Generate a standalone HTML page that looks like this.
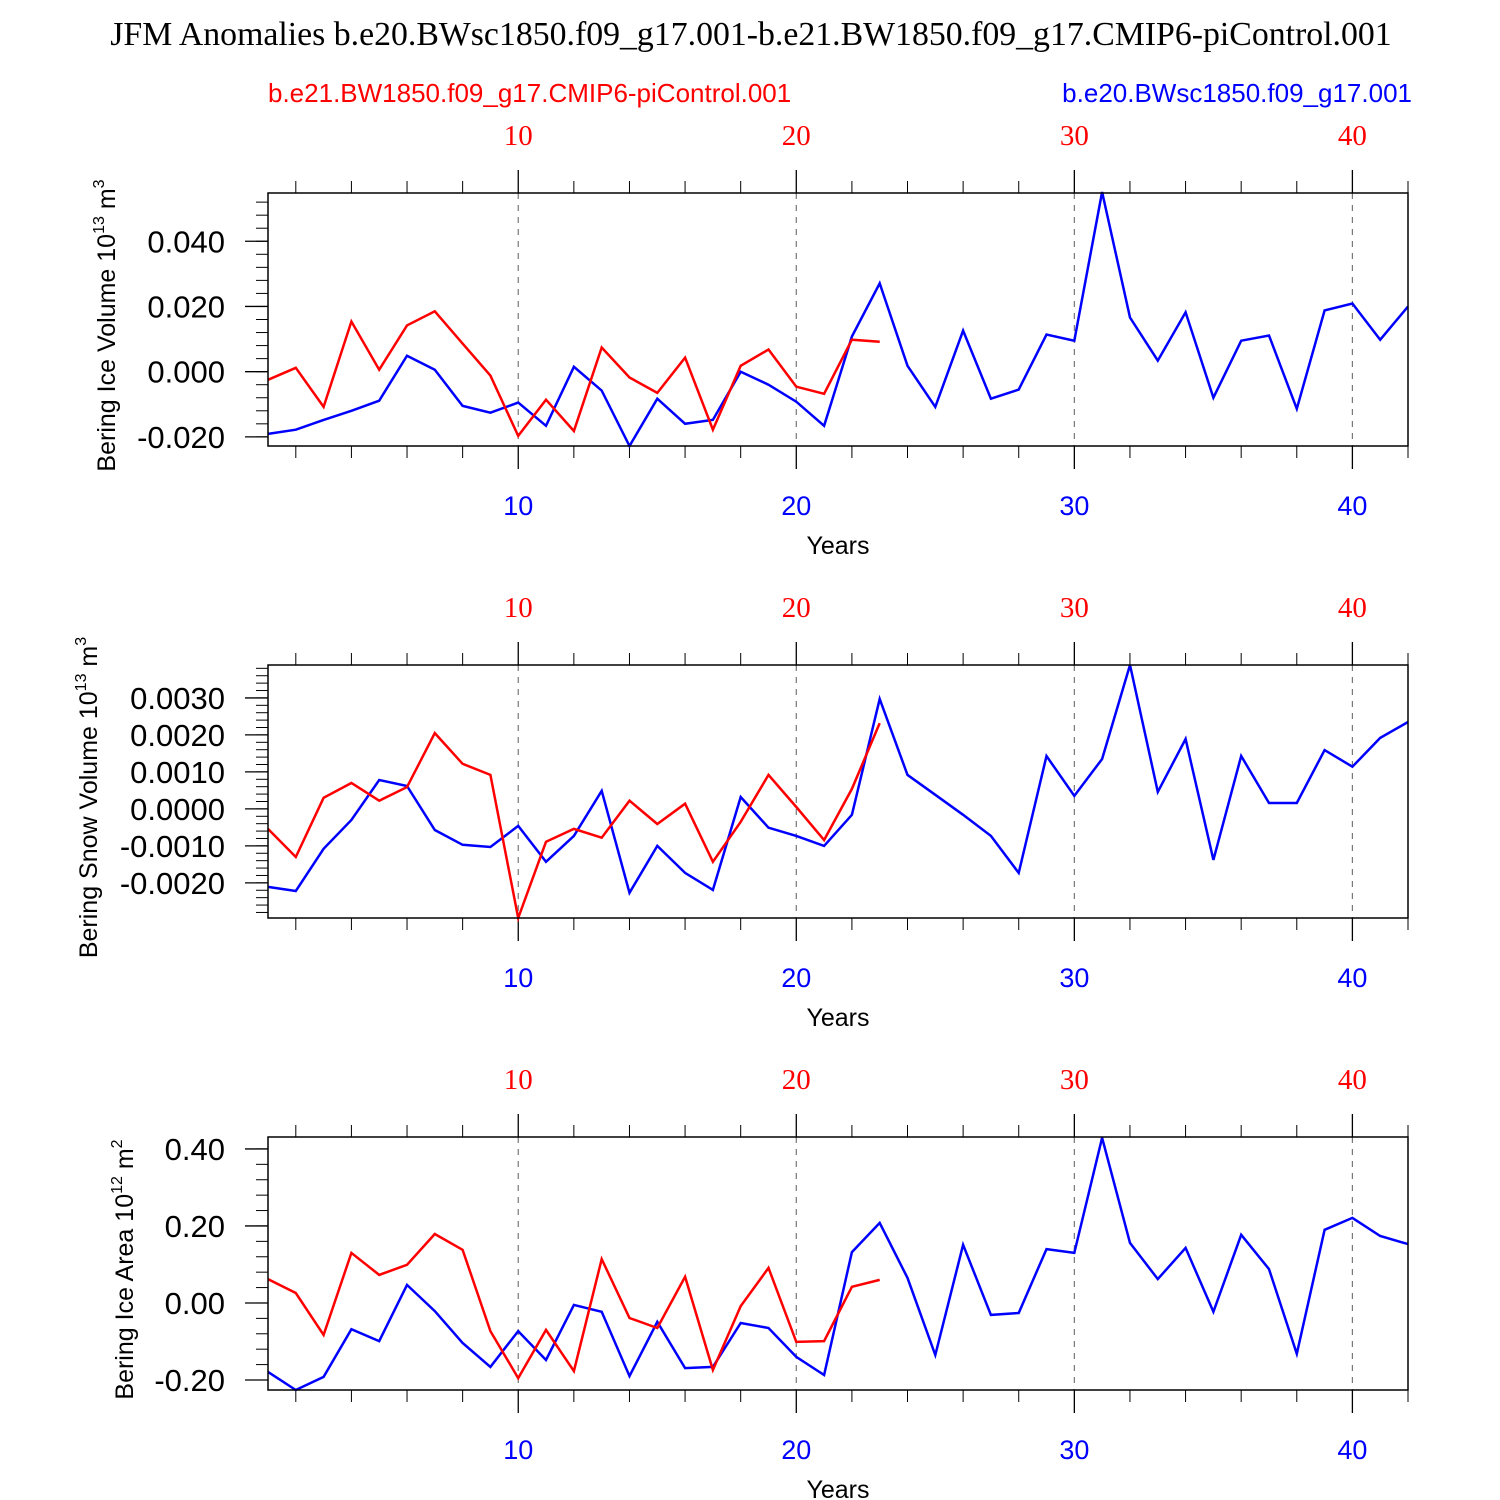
<!DOCTYPE html>
<html><head><meta charset="utf-8"><style>
html,body{margin:0;padding:0;background:#fff;}
svg{display:block;}
</style></head><body>
<svg id="chart" width="1500" height="1500" xmlns="http://www.w3.org/2000/svg">
<text x="751" y="45" text-anchor="middle" font-family="Liberation Serif, serif" font-size="33.8">JFM Anomalies b.e20.BWsc1850.f09_g17.001-b.e21.BW1850.f09_g17.CMIP6-piControl.001</text>
<text x="268" y="102" font-family="Liberation Sans, sans-serif" font-size="26" fill="#ff0000">b.e21.BW1850.f09_g17.CMIP6-piControl.001</text>
<text x="1412" y="102" text-anchor="end" font-family="Liberation Sans, sans-serif" font-size="26" fill="#0000ff">b.e20.BWsc1850.f09_g17.001</text>
</svg>
<script>
const iceVolBlue=[-0.0191,-0.0178,-0.0148,-0.0120,-0.0089,0.0049,0.0006,-0.0105,-0.0126,-0.0095,-0.0166,0.0015,-0.0058,-0.0228,-0.0083,-0.0160,-0.0148,0.0,-0.0040,-0.0092,-0.0166,0.0108,0.0271,0.0018,-0.0108,0.0126,-0.0083,-0.0055,0.0114,0.0095,0.0551,0.0166,0.0034,0.0182,-0.0080,0.0095,0.0111,-0.0114,0.0188,0.0209,0.0098,0.0200];
const iceVolRed=[-0.0025,0.0012,-0.0108,0.0154,0.0006,0.0142,0.0185,0.0086,-0.0012,-0.0197,-0.0086,-0.0182,0.0074,-0.0018,-0.0065,0.0043,-0.0178,0.0018,0.0068,-0.0046,-0.0068,0.0098,0.0092];
const snowBlue=[-0.00211,-0.00222,-0.00108,-0.0003,0.00078,0.00062,-0.00057,-0.00097,-0.00103,-0.00046,-0.00143,-0.00073,0.00049,-0.00227,-0.001,-0.00173,-0.00219,0.00032,-0.00051,-0.00073,-0.001,-0.00016,0.00297,0.00092,0.00038,-0.00016,-0.00073,-0.00173,0.00143,0.00035,0.00135,0.00389,0.00046,0.00189,-0.00138,0.00143,0.00016,0.00016,0.00159,0.00114,0.00192,0.00235];
const snowRed=[-0.00054,-0.0013,0.0003,0.0007,0.00022,0.00059,0.00205,0.00122,0.00092,-0.00295,-0.00089,-0.00054,-0.00078,0.00022,-0.00041,0.00014,-0.00143,-0.00035,0.00092,0.00005,-0.00084,0.00054,0.00232];
const areaBlue=[-0.179,-0.226,-0.192,-0.068,-0.099,0.047,-0.021,-0.104,-0.166,-0.073,-0.148,-0.005,-0.023,-0.19,-0.049,-0.169,-0.166,-0.052,-0.065,-0.14,-0.187,0.132,0.208,0.065,-0.135,0.151,-0.031,-0.026,0.14,0.13,0.429,0.156,0.062,0.143,-0.023,0.177,0.088,-0.132,0.19,0.221,0.174,0.153];
const areaRed=[0.062,0.026,-0.083,0.13,0.073,0.099,0.179,0.138,-0.073,-0.195,-0.07,-0.177,0.114,-0.039,-0.065,0.068,-0.174,-0.008,0.091,-0.101,-0.099,0.042,0.06];
const xTicks=[10,20,30,40];
const iceVolTicks=[-0.02,0,0.02,0.04];
const iceVolTickLabels=["-0.020","0.000","0.020","0.040"];
const snowTicks=[-0.002,-0.001,0,0.001,0.002,0.003];
const snowTickLabels=["-0.0020","-0.0010","0.0000","0.0010","0.0020","0.0030"];
const areaTicks=[-0.2,0,0.2,0.4];
const areaTickLabels=["-0.20","0.00","0.20","0.40"];

const NS="http://www.w3.org/2000/svg";
const svg=document.getElementById('chart');
function mk(tag,attrs,parent){const e=document.createElementNS(NS,tag);for(const k in attrs)e.setAttribute(k,attrs[k]);(parent||svg).appendChild(e);return e;}
const X0=268,X1=1408,xmin=1,xmax=42;
function xs(v){return X0+(v-xmin)/(xmax-xmin)*(X1-X0);}

const panels=[
 {name:'ice-volume',top:193,bot:446,ymin:-0.0228,ymax:0.0548,ticks:iceVolTicks,labels:iceVolTickLabels,minor:0.004,blue:iceVolBlue,red:iceVolRed,title:'Bering Ice Volume 10',sup:'13',unit:' m',usup:'3',tx:115},
 {name:'snow-volume',top:665,bot:918,ymin:-0.00295,ymax:0.00389,ticks:snowTicks,labels:snowTickLabels,minor:0.0002,blue:snowBlue,red:snowRed,title:'Bering Snow Volume 10',sup:'13',unit:' m',usup:'3',tx:97},
 {name:'ice-area',top:1137,bot:1390,ymin:-0.226,ymax:0.431,ticks:areaTicks,labels:areaTickLabels,minor:0.04,blue:areaBlue,red:areaRed,title:'Bering Ice Area 10',sup:'12',unit:' m',usup:'2',tx:133}
];
panels.forEach(p=>{
 const g=mk('g',{});
 
 
 const ys=v=>p.bot-(v-p.ymin)/(p.ymax-p.ymin)*(p.bot-p.top);
 xTicks.forEach(t=>{const l=mk('line',{x1:xs(t),x2:xs(t),y1:p.top,y2:p.bot,stroke:'#777','stroke-width':1.2,'stroke-dasharray':'6,6'},g);
  });
 for(let y=2;y<=42;y+=2){ if(y%10===0)continue;
  mk('line',{x1:xs(y),x2:xs(y),y1:p.top,y2:p.top-12,stroke:'#000','stroke-width':1},g);
  mk('line',{x1:xs(y),x2:xs(y),y1:p.bot,y2:p.bot+12,stroke:'#000','stroke-width':1},g);}
 xTicks.forEach(t=>{
  mk('line',{x1:xs(t),x2:xs(t),y1:p.top,y2:p.top-23,stroke:'#000','stroke-width':1.3},g);
  mk('line',{x1:xs(t),x2:xs(t),y1:p.bot,y2:p.bot+23,stroke:'#000','stroke-width':1.3},g);
  const a=mk('text',{x:xs(t),y:p.top-48,'text-anchor':'middle','font-family':'Liberation Serif, serif','font-size':29,fill:'#ff0000'},g);a.textContent=t;
  
  const b=mk('text',{x:xs(t),y:p.bot+69,'text-anchor':'middle','font-family':'Liberation Sans, sans-serif','font-size':27,fill:'#0000ff'},g);b.textContent=t;
  
 });
 const n0=Math.ceil(p.ymin/p.minor-1e-9),n1=Math.floor(p.ymax/p.minor+1e-9);
 for(let i=n0;i<=n1;i++){const v=i*p.minor;mk('line',{x1:X0,x2:X0-12,y1:ys(v),y2:ys(v),stroke:'#000','stroke-width':1},g);}
 p.ticks.forEach((t,i)=>{
  mk('line',{x1:X0,x2:X0-23,y1:ys(t),y2:ys(t),stroke:'#000','stroke-width':1.3},g);
  const tx=mk('text',{x:X0-43,y:ys(t)+11,'text-anchor':'end','font-family':'Liberation Sans, sans-serif','font-size':31},g);tx.textContent=p.labels[i];
  
 });
 const yt=mk('text',{transform:`translate(${p.tx},${(p.top+p.bot)/2+6}) rotate(-90)`,'text-anchor':'middle','font-family':'Liberation Sans, sans-serif','font-size':25},g);
 
 yt.appendChild(document.createTextNode(p.title));
 const s1=mk('tspan',{'font-size':16,dy:-11},yt);s1.textContent=p.sup;
 const s2=mk('tspan',{dy:11},yt);s2.textContent=p.unit;
 const s3=mk('tspan',{'font-size':16,dy:-11},yt);s3.textContent=p.usup;
 const xt=mk('text',{x:838,y:p.bot+108,'text-anchor':'middle','font-family':'Liberation Sans, sans-serif','font-size':25},g);xt.textContent='Years';
 
 const pts=arr=>arr.map((v,i)=>xs(i+1).toFixed(1)+','+ys(v).toFixed(1)).join(' ');
 const bl=mk('polyline',{points:pts(p.blue),fill:'none',stroke:'#0000ff','stroke-width':2.5},g);
 
 const rl=mk('polyline',{points:pts(p.red),fill:'none',stroke:'#ff0000','stroke-width':2.5},g);
 
 const fr=mk('rect',{x:X0,y:p.top,width:X1-X0,height:p.bot-p.top,fill:'none',stroke:'#000','stroke-width':1.5},g);
 
});
</script>
</body></html>
